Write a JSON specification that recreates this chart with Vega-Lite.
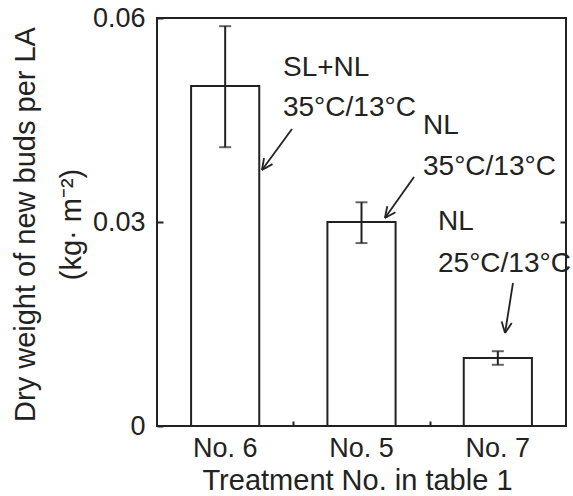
{
  "$schema": "https://vega.github.io/schema/vega-lite/v6.json",
  "width": 409,
  "height": 408,
  "autosize": {"type": "none"},
  "padding": {"left": 157, "top": 18, "right": 7, "bottom": 70},
  "background": "white",
  "config": {
    "font": "Liberation Sans",
    "view": {"stroke": "#222", "strokeWidth": 2},
    "axis": {"domain": false, "grid": false, "tickColor": "#222", "tickWidth": 2, "labelColor": "#222", "titleColor": "#222", "titleFontWeight": "normal"}
  },
  "datasets": {
    "bars": [
      {"treatment": "No. 6", "value": 0.05, "lo": 0.041, "hi": 0.0588},
      {"treatment": "No. 5", "value": 0.03, "lo": 0.0269, "hi": 0.0329},
      {"treatment": "No. 7", "value": 0.01, "lo": 0.009, "hi": 0.011}
    ],
    "notes": [
      {"x": 0.924, "y": 0.05147, "label": "SL+NL"},
      {"x": 0.924, "y": 0.04559, "label": "35°C/13°C"},
      {"x": 1.951, "y": 0.04294, "label": "NL"},
      {"x": 1.951, "y": 0.03691, "label": "35°C/13°C"},
      {"x": 2.061, "y": 0.02882, "label": "NL"},
      {"x": 2.061, "y": 0.02265, "label": "25°C/13°C"}
    ],
    "arrows": [
      {"x": 0.990, "y": 0.04368, "x2": 0.770, "y2": 0.03765},
      {"x": 0.770, "y": 0.03765, "x2": 0.847, "y2": 0.03851},
      {"x": 0.770, "y": 0.03765, "x2": 0.785, "y2": 0.03938},
      {"x": 1.885, "y": 0.03662, "x2": 1.672, "y2": 0.03059},
      {"x": 1.672, "y": 0.03059, "x2": 1.749, "y2": 0.03144},
      {"x": 1.672, "y": 0.03059, "x2": 1.689, "y2": 0.03232},
      {"x": 2.611, "y": 0.02103, "x2": 2.553, "y2": 0.01368},
      {"x": 2.553, "y": 0.01368, "x2": 2.602, "y2": 0.01513},
      {"x": 2.553, "y": 0.01368, "x2": 2.528, "y2": 0.01537}
    ]
  },
  "layer": [
    {
      "data": {"name": "bars"},
      "layer": [
        {
          "mark": {"type": "bar", "fill": "white", "stroke": "#222", "strokeWidth": 2},
          "encoding": {
            "x": {
              "field": "treatment", "type": "nominal", "sort": null,
              "scale": {"paddingInner": 0.5, "paddingOuter": 0.25},
              "axis": {"ticks": false, "labelAngle": 0, "labelFontSize": 27, "labelPadding": 9, "title": "Treatment No. in table 1", "titleFontSize": 29, "titlePadding": 5, "titleX": 200, "titleAlign": "center"}
            },
            "y": {
              "field": "value", "type": "quantitative",
              "scale": {"domain": [0, 0.06], "nice": false},
              "axis": {
                "values": [0, 0.03, 0.06], "format": ".2~f", "tickSize": -6, "labelPadding": 18,
                "labelFontSize": 27,
                "title": ["Dry weight of new buds per LA", "(kg·  m⁻²)"],
                "titleFontSize": 29, "titleLineHeight": 46, "titleAngle": -90,
                "titleX": -132, "titleY": 206, "titleAlign": "center", "titleBaseline": "middle"
              }
            }
          }
        },
        {
          "mark": {"type": "rule", "stroke": "#222", "strokeWidth": 2},
          "encoding": {
            "x": {"field": "treatment", "type": "nominal", "sort": null},
            "y": {"field": "lo", "type": "quantitative"},
            "y2": {"field": "hi"}
          }
        },
        {
          "mark": {"type": "tick", "orient": "horizontal", "size": 12, "thickness": 2, "color": "#222"},
          "encoding": {
            "x": {"field": "treatment", "type": "nominal", "sort": null},
            "y": {"field": "lo", "type": "quantitative"}
          }
        },
        {
          "mark": {"type": "tick", "orient": "horizontal", "size": 12, "thickness": 2, "color": "#222"},
          "encoding": {
            "x": {"field": "treatment", "type": "nominal", "sort": null},
            "y": {"field": "hi", "type": "quantitative"}
          }
        }
      ]
    },
    {
      "layer": [
        {
          "data": {"name": "notes"},
          "mark": {"type": "text", "align": "left", "baseline": "alphabetic", "fontSize": 28, "color": "#222"},
          "encoding": {
            "x": {"field": "x", "type": "quantitative", "scale": {"domain": [0, 3], "nice": false},
              "axis": {"orient": "bottom", "values": [1, 2], "labels": false, "tickSize": -5, "title": null}},
            "y": {"field": "y", "type": "quantitative", "scale": {"domain": [0, 0.06], "nice": false}, "axis": null},
            "text": {"field": "label"}
          }
        },
        {
          "data": {"name": "arrows"},
          "mark": {"type": "rule", "stroke": "#222", "strokeWidth": 1.8},
          "encoding": {
            "x": {"field": "x", "type": "quantitative"},
            "x2": {"field": "x2"},
            "y": {"field": "y", "type": "quantitative", "scale": {"domain": [0, 0.06], "nice": false},
              "axis": {"orient": "right", "values": [0.03], "labels": false, "tickSize": -6, "title": null}},
            "y2": {"field": "y2"}
          }
        }
      ],
      "resolve": {"axis": {"y": "independent"}}
    }
  ],
  "resolve": {"scale": {"x": "independent"}, "axis": {"x": "independent", "y": "independent"}}
}
